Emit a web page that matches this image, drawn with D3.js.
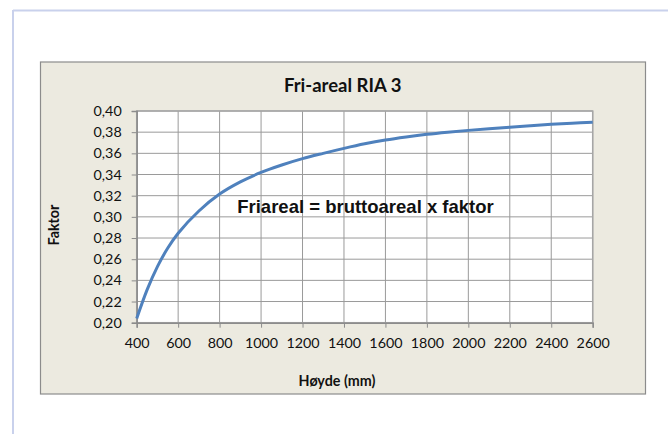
<!DOCTYPE html>
<html>
<head>
<meta charset="utf-8">
<script src="https://cdn.jsdelivr.net/npm/d3@7"></script>
<style>
  html, body { margin: 0; padding: 0; background: #fff; }
  #chart { width: 668px; height: 434px; }
</style>
</head>
<body>
<div id="chart"></div>
<script>
// Curve readings (height in mm, factor)
var heights = [400, 450, 500, 550, 600, 700, 800, 900, 1000, 1100, 1200, 1300, 1400,
               1500, 1600, 1700, 1800, 1900, 2000, 2100, 2200, 2300, 2400, 2500, 2600];
var factors = [0.204, 0.231, 0.253, 0.2705, 0.2845, 0.3055, 0.3215, 0.333, 0.342, 0.349, 0.355, 0.360, 0.3647,
               0.369, 0.3726, 0.3755, 0.378, 0.380, 0.3817, 0.3832, 0.3846, 0.386, 0.3874, 0.3885, 0.3893];
var xTicks = [400, 600, 800, 1000, 1200, 1400, 1600, 1800, 2000, 2200, 2400, 2600];
var yTicks = [0.20, 0.22, 0.24, 0.26, 0.28, 0.30, 0.32, 0.34, 0.36, 0.38, 0.40];

var W = 668, H = 434;
var plot = { left: 136.7, top: 111, right: 592.7, bottom: 322.7 };
var labelFont = 'Lato, "Open Sans", sans-serif';

var svg = d3.select('#chart').append('svg')
  .attr('width', W).attr('height', H);

// page frame (light blue)
svg.append('line')
  .attr('x1', 13).attr('x2', W).attr('y1', 10.5).attr('y2', 10.5)
  .attr('stroke', '#c9d1ec').attr('stroke-width', 2);
svg.append('line')
  .attr('x1', 13).attr('x2', 13).attr('y1', 10).attr('y2', H)
  .attr('stroke', '#c9d1ec').attr('stroke-width', 2);

// chart box
svg.append('rect')
  .attr('x', 40.5).attr('y', 62).attr('width', 605).attr('height', 332)
  .attr('fill', '#eceae0').attr('stroke', '#8c8c8c').attr('stroke-width', 1.2);

var x = d3.scaleLinear().domain([400, 2600]).range([plot.left, plot.right]);
var y = d3.scaleLinear().domain([0.20, 0.40]).range([plot.bottom, plot.top]);

// plot area
svg.append('rect')
  .attr('x', plot.left).attr('y', plot.top)
  .attr('width', plot.right - plot.left).attr('height', plot.bottom - plot.top)
  .attr('fill', '#fff');

// gridlines
svg.append('g').selectAll('line').data(xTicks).join('line')
  .attr('x1', function(d) { return x(d); }).attr('x2', function(d) { return x(d); })
  .attr('y1', plot.top).attr('y2', plot.bottom)
  .attr('stroke', '#9a9a9a').attr('stroke-width', 1);
svg.append('g').selectAll('line').data(yTicks).join('line')
  .attr('x1', plot.left).attr('x2', plot.right)
  .attr('y1', function(d) { return y(d); }).attr('y2', function(d) { return y(d); })
  .attr('stroke', '#9a9a9a').attr('stroke-width', 1);

// plot border
svg.append('rect')
  .attr('x', plot.left).attr('y', plot.top)
  .attr('width', plot.right - plot.left).attr('height', plot.bottom - plot.top)
  .attr('fill', 'none').attr('stroke', '#a6a6a6').attr('stroke-width', 1.5);

// axes
var fmt = function(d) { return d3.format('.2f')(d).replace('.', ','); };
var yAxis = svg.append('g')
  .attr('transform', 'translate(' + plot.left + ',0)')
  .call(d3.axisLeft(y).tickValues(yTicks).tickSize(5).tickPadding(10).tickFormat(fmt));
var xAxis = svg.append('g')
  .attr('transform', 'translate(0,' + plot.bottom + ')')
  .call(d3.axisBottom(x).tickValues(xTicks).tickSize(5).tickPadding(10).tickFormat(d3.format('d')));

[xAxis, yAxis].forEach(function(a) {
  a.select('.domain').attr('stroke', '#8c8c8c').attr('stroke-width', 1.5);
  a.selectAll('.tick line').attr('stroke', '#8c8c8c');
  a.selectAll('.tick text')
    .attr('fill', '#111')
    .style('font-family', labelFont)
    .style('font-size', '14.3px');
});

// curve
var pts = heights.map(function(h, i) { return [h, factors[i]]; });
var line = d3.line()
  .x(function(d) { return x(d[0]); })
  .y(function(d) { return y(d[1]); })
  .curve(d3.curveCatmullRom.alpha(0.5));
svg.append('path')
  .datum(pts)
  .attr('d', line)
  .attr('fill', 'none')
  .attr('stroke', '#4f81bd')
  .attr('stroke-width', 3);

// title
svg.append('text')
  .attr('x', 342.7).attr('y', 92)
  .attr('text-anchor', 'middle')
  .style('font-family', labelFont)
  .style('font-weight', 'bold')
  .style('font-size', '18.5px')
  .attr('fill', '#111')
  .text('Fri-areal RIA 3');

// annotation
svg.append('text')
  .attr('x', 365.5).attr('y', 213)
  .attr('text-anchor', 'middle')
  .style('font-family', '"Liberation Sans", Arial, sans-serif')
  .style('font-weight', 'bold')
  .style('font-size', '18.5px')
  .attr('fill', '#111')
  .text('Friareal = bruttoareal x faktor');

// axis titles
svg.append('text')
  .attr('x', 337).attr('y', 386)
  .attr('text-anchor', 'middle')
  .style('font-family', labelFont)
  .style('font-weight', 'bold')
  .style('font-size', '14.3px')
  .attr('fill', '#111')
  .text('Høyde (mm)');

svg.append('text')
  .attr('transform', 'translate(59,225) rotate(-90)')
  .attr('text-anchor', 'middle')
  .style('font-family', labelFont)
  .style('font-weight', 'bold')
  .style('font-size', '14.3px')
  .attr('fill', '#111')
  .text('Faktor');
</script>
</body>
</html>
